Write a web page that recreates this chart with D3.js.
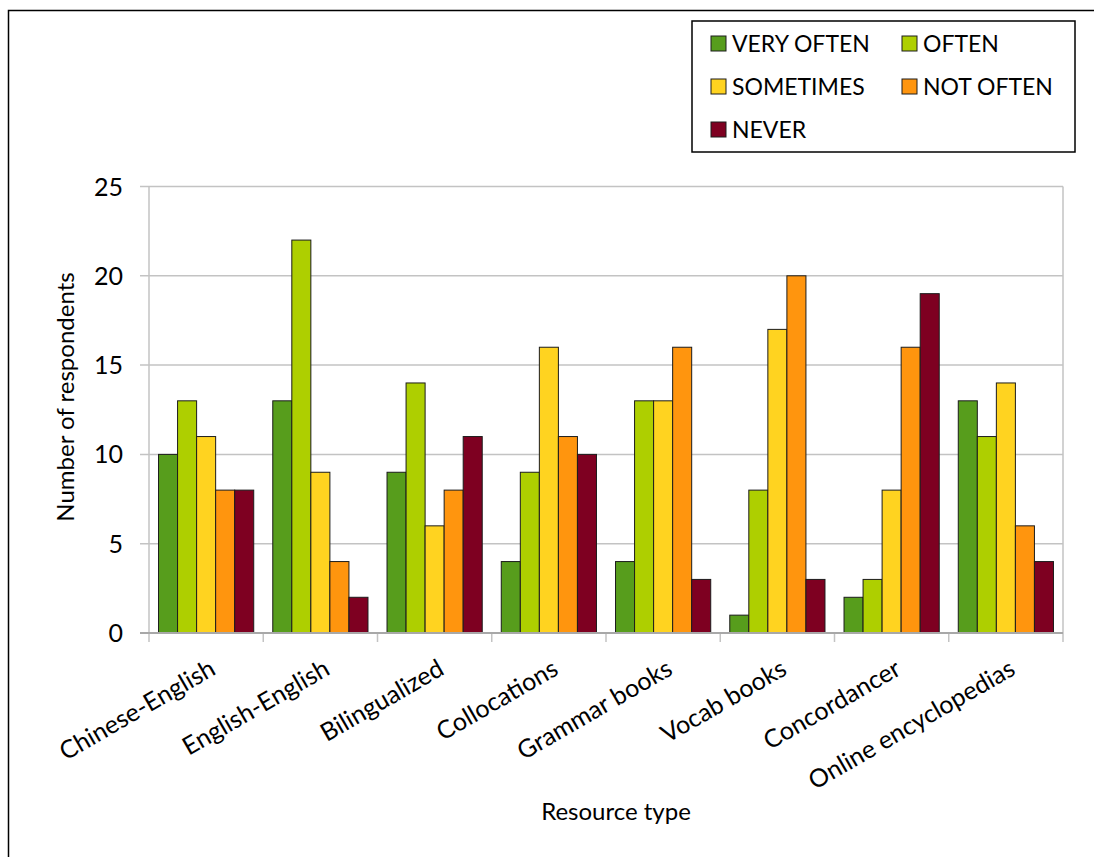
<!DOCTYPE html>
<html>
<head>
<meta charset="utf-8">
<script src="https://cdn.jsdelivr.net/npm/d3@7"></script>
<style>
  html, body { margin: 0; padding: 0; background: #fff; }
  svg { display: block; }
  text { font-family: Lato, "Liberation Sans", sans-serif; fill: #000; }
</style>
</head>
<body>
<svg id="chart" width="1094" height="857"></svg>
<script>
// Resource types on the x axis
const categories = [
  "Chinese-English", "English-English", "Bilingualized", "Collocations",
  "Grammar books", "Vocab books", "Concordancer", "Online encyclopedias"
];

// Frequency-of-use responses (one series each)
const seriesNames = ["VERY OFTEN", "OFTEN", "SOMETIMES", "NOT OFTEN", "NEVER"];
const seriesColors = ["#579d1c", "#aecf00", "#ffd320", "#ff950e", "#7e0021"];

// Number of respondents per resource, one array per series
const veryOften = [10, 13, 9, 4, 4, 1, 2, 13];
const often     = [13, 22, 14, 9, 13, 8, 3, 11];
const sometimes = [11, 9, 6, 16, 13, 17, 8, 14];
const notOften  = [8, 4, 8, 11, 16, 20, 16, 6];
const never     = [8, 2, 11, 10, 3, 3, 19, 4];

const yTicks = [0, 5, 10, 15, 20, 25];

const seriesValues = [veryOften, often, sometimes, notOften, never];
const rows = categories.map((c, i) => ({
  category: c,
  values: seriesNames.map((s, k) => ({ series: s, k, value: seriesValues[k][i] }))
}));

const svg = d3.select("#chart");
const FONT = 24;

// Outer frame of the chart object
svg.append("rect")
  .attr("x", 8.5).attr("y", 10.5)
  .attr("width", 1200).attr("height", 1000)
  .attr("fill", "none").attr("stroke", "#000").attr("stroke-width", 1.5);

// Plot area
const plot = { left: 149, right: 1063, top: 186.5, bottom: 633 };

const x0 = d3.scaleBand().domain(categories).range([plot.left, plot.right]).padding(0);
const x1 = d3.scaleBand().domain(seriesNames).range([0, x0.bandwidth()])
  .paddingInner(0).paddingOuter(0.5);
const y = d3.scaleLinear().domain([0, 25]).range([plot.bottom, plot.top]);

// Horizontal gridlines
svg.append("g")
  .selectAll("line")
  .data(yTicks.filter(t => t > 0))
  .join("line")
  .attr("x1", plot.left - 9).attr("x2", plot.right)
  .attr("y1", d => y(d)).attr("y2", d => y(d))
  .attr("stroke", "#c3c3c3").attr("stroke-width", 1.5);

// Left axis line and right border
svg.append("line")
  .attr("x1", plot.left).attr("x2", plot.left)
  .attr("y1", plot.top).attr("y2", plot.bottom + 9)
  .attr("stroke", "#c3c3c3").attr("stroke-width", 1.5);
svg.append("line")
  .attr("x1", plot.right).attr("x2", plot.right)
  .attr("y1", plot.top).attr("y2", plot.bottom + 9)
  .attr("stroke", "#c3c3c3").attr("stroke-width", 1.5);

// Category tick marks below the baseline
svg.append("g")
  .selectAll("line")
  .data(categories.slice(1))
  .join("line")
  .attr("x1", d => x0(d)).attr("x2", d => x0(d))
  .attr("y1", plot.bottom).attr("y2", plot.bottom + 9)
  .attr("stroke", "#c3c3c3").attr("stroke-width", 1.5);

// Bars
const groups = svg.append("g")
  .selectAll("g")
  .data(rows)
  .join("g")
  .attr("transform", d => `translate(${x0(d.category)},0)`);

groups.selectAll("rect")
  .data(d => d.values)
  .join("rect")
  .attr("x", d => x1(d.series))
  .attr("y", d => y(d.value))
  .attr("width", x1.bandwidth())
  .attr("height", d => y(0) - y(d.value))
  .attr("fill", d => seriesColors[d.k])
  .attr("stroke", "#1c1c1c")
  .attr("stroke-width", 1);

// Baseline (zero line)
svg.append("line")
  .attr("x1", plot.left - 9).attr("x2", plot.right)
  .attr("y1", y(0)).attr("y2", y(0))
  .attr("stroke", "#a8a8a8").attr("stroke-width", 2);

// Y axis tick labels
svg.append("g")
  .selectAll("text")
  .data(yTicks)
  .join("text")
  .attr("x", 123).attr("y", d => y(d))
  .attr("dy", "0.36em")
  .attr("text-anchor", "end")
  .style("font-size", "25px")
  .text(d => d);

// Category labels, rotated
svg.append("g")
  .selectAll("text")
  .data(categories)
  .join("text")
  .attr("transform", d => `translate(${x0(d) + x0.bandwidth() / 2 + 2},${plot.bottom + 25}) rotate(-30)`)
  .attr("dy", "0.72em")
  .attr("text-anchor", "end")
  .style("font-size", "25px")
  .text(d => d);

// Axis titles
svg.append("text")
  .attr("transform", `translate(74,397) rotate(-90)`)
  .attr("text-anchor", "middle")
  .style("font-size", FONT + "px")
  .text("Number of respondents");

svg.append("text")
  .attr("x", 616).attr("y", 820)
  .attr("text-anchor", "middle")
  .style("font-size", FONT + "px")
  .text("Resource type");

// Legend
const legend = svg.append("g");
legend.append("rect")
  .attr("x", 692).attr("y", 21)
  .attr("width", 383).attr("height", 131)
  .attr("fill", "#fff").attr("stroke", "#000").attr("stroke-width", 1.5);

const legendCols = [711, 902];
const legendRows = [43, 86, 129];
const items = legend.selectAll("g.item")
  .data(seriesNames.map((s, k) => ({ s, k })))
  .join("g")
  .attr("class", "item")
  .attr("transform", d => `translate(${legendCols[d.k % 2]},${legendRows[Math.floor(d.k / 2)]})`);

items.append("rect")
  .attr("x", 0).attr("y", -7)
  .attr("width", 15).attr("height", 15)
  .attr("fill", d => seriesColors[d.k])
  .attr("stroke", "#1c1c1c").attr("stroke-width", 1);

items.append("text")
  .attr("x", 21).attr("y", 0)
  .attr("dy", "0.37em")
  .style("font-size", "23px")
  .text(d => d.s);
</script>
</body>
</html>
